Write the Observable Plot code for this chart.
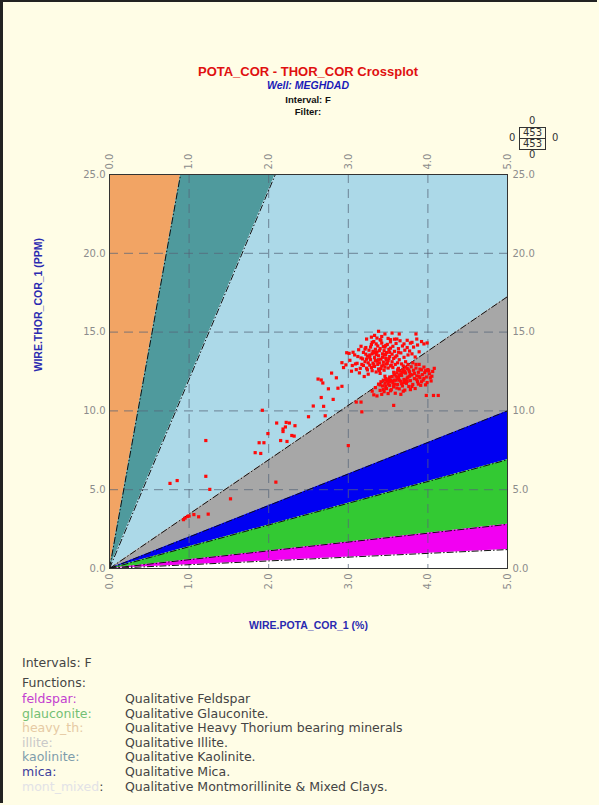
<!DOCTYPE html>
<html>
<head>
<meta charset="utf-8">
<script src="https://cdn.jsdelivr.net/npm/d3@7"></script>
<script src="https://cdn.jsdelivr.net/npm/@observablehq/plot@0.6"></script>
<style>
  html, body { margin: 0; padding: 0; }
  body { width: 599px; height: 805px; background: #fffde6; position: relative; overflow: hidden; }
  .frame { position: absolute; left: 0; top: 0; width: 597px; height: 803px; border-left: 3px solid #222; border-top: 2px solid #222; box-sizing: border-box; pointer-events: none; }
  .t { position: absolute; left: 0; width: 616px; text-align: center; font-family: "Liberation Sans", Arial, sans-serif; font-weight: bold; white-space: nowrap; }
  #chart { position: absolute; left: 0; top: 0; }
  .badge { position: absolute; font-family: "DejaVu Sans", sans-serif; font-size: 10px; color: #333; }
  .leg { position: absolute; left: 22px; font-family: "DejaVu Sans", sans-serif; font-size: 12.5px; color: #444; white-space: nowrap; line-height: 14px; }
  .leg span.d { position: absolute; left: 103px; color: #444; }
</style>
</head>
<body>
<div id="chart"></div>
<div class="t" style="top:64px;font-size:13px;color:#e01010;">POTA_COR - THOR_COR Crossplot</div>
<div class="t" style="top:79px;font-size:10.5px;color:#1a1ab8;font-style:italic;">Well: MEGHDAD</div>
<div class="t" style="top:94px;font-size:9.5px;color:#111;">Interval: F</div>
<div class="t" style="top:106px;font-size:9.5px;color:#111;">Filter:</div>

<div id="badge"></div>
<div id="legend"></div>
<div class="frame"></div>

<script>
// ---- data ----
const potaTicks = [0, 1, 2, 3, 4, 5];
const thorTicks = [0, 5, 10, 15, 20, 25];
const gridPota = [1, 2, 3, 4];
const gridThor = [5, 10, 15, 20];

const zoneNames  = ["heavy_th", "kaolinite", "mont_mixed", "illite", "mica", "glauconite", "feldspar"];
const zoneUpper  = [Infinity, 28, 12, 3.45, 2.0, 1.38, 0.56];   // Th/K ratio, upper edge
const zoneLower  = [28, 12, 3.45, 2.0, 1.38, 0.56, 0.24];       // Th/K ratio, lower edge
const zoneColors = ["#f2a464", "#4f9a9d", "#acd9e8", "#a7a7a7", "#0000f2", "#33c933", "#f200f2"];

const legendNames = ["feldspar", "glauconite", "heavy_th", "illite", "kaolinite", "mica", "mont_mixed"];
const legendDescs = ["Qualitative Feldspar", "Qualitative Glauconite.", "Qualitative Heavy Thorium bearing minerals",
                     "Qualitative Illite.", "Qualitative Kaolinite.", "Qualitative Mica.", "Qualitative Montmorillinite & Mixed Clays."];
const legendColors = ["#c33fd0", "#74c074", "#e6caa4", "#c9c9c9", "#7e9cab", "#3c3c9c", "#e2e2e6"];
const legendColonColors = ["#c33fd0", "#74c074", "#e6caa4", "#c9c9c9", "#7e9cab", "#3c3c9c", "#444"];

const countTotal = 453, countShown = 453, countOut = [0, 0, 0, 0];

// crossplot points (POTA_COR %, THOR_COR ppm)
const pota = [
  0.76,0.85,0.93,0.95,0.98,1.00,1.06,1.12,1.24,1.21,1.26,1.21,1.52,1.90,1.83,1.88,1.94,1.99,1.92,2.09,2.10,2.15,2.18,2.21,2.26,2.18,2.23,2.29,2.32,2.22,2.33,3.00,
  2.98,2.92,2.94,2.79,2.85,2.62,2.66,2.68,2.75,2.87,2.92,2.66,2.81,2.56,2.69,2.50,2.71,3.10,3.16,3.57,3.17,
  3.97,3.98,4.07,4.13,4.01,4.05,
  3.33,3.55,3.64,3.85,3.23,3.40,3.53,3.61,3.74,3.80,3.86,3.95,3.99,3.70,
  3.02,3.05,3.08,3.10,3.11,3.13,3.14,3.16,3.17,3.19,3.20,3.21,3.22,3.23,3.24,3.25,3.26,3.27,3.28,3.29,
  3.30,3.30,3.31,3.32,3.33,3.33,3.34,3.35,3.36,3.36,3.37,3.38,3.38,3.39,3.40,3.40,3.41,3.42,3.42,3.43,
  3.44,3.45,3.45,3.46,3.47,3.48,3.48,3.49,3.50,3.50,3.51,3.52,3.53,3.54,3.55,3.55,3.56,3.57,3.58,3.59,
  3.60,3.61,3.62,3.63,3.64,3.65,3.66,3.67,3.68,3.70,3.71,3.72,3.74,3.75,3.77,3.78,3.80,3.82,3.84,3.87,3.89,3.92,
  3.25,3.27,3.29,3.31,3.34,3.35,3.37,3.39,3.41,3.43,3.44,3.46,3.47,3.49,3.51,3.53,3.22,3.18,3.15,3.12,3.09,3.06,3.04,2.97,3.01,
  3.21,3.24,3.28,3.32,3.35,3.38,3.41,3.44,3.47,3.52,3.56,3.59,3.27,3.33,3.39,3.45,3.50,3.42,3.36,3.30,3.19,3.16,3.23,3.48,3.53,3.63,3.58,3.46,3.38,3.29,
  3.30,3.32,3.34,3.36,3.38,3.40,3.41,3.42,3.43,3.44,3.45,3.46,3.47,3.48,3.49,3.50,3.51,3.52,3.53,3.54,
  3.55,3.56,3.57,3.58,3.59,3.60,3.61,3.62,3.63,3.64,3.65,3.66,3.67,3.68,3.69,3.70,3.71,3.72,3.73,3.74,
  3.75,3.76,3.77,3.78,3.79,3.80,3.81,3.82,3.83,3.84,3.85,3.86,3.87,3.88,3.89,3.90,3.91,3.92,3.93,3.94,
  3.95,3.96,3.98,4.00,4.02,4.04,4.06,4.08,
  3.58,3.62,3.66,3.70,3.74,3.78,3.60,3.64,3.68,3.72,3.76,3.55,3.52,3.50,3.48,3.46,3.57,3.63,3.69,3.75,3.81,
  3.53,3.58,3.61,3.64,3.67,3.71,3.74,3.77,3.80,3.83,3.86,3.89,3.92,3.95,3.97,3.99,4.03,3.69,3.78,3.62,3.66,3.85,3.90,3.72,3.57,3.47,3.44,3.40,3.52,3.88
];
const thor = [
  5.40,5.58,3.10,3.20,3.30,3.33,3.42,3.28,3.45,5.85,5.02,8.12,4.42,7.30,7.35,7.98,7.98,8.56,10.04,5.48,9.23,8.12,8.85,8.98,9.23,8.69,8.06,8.44,8.40,9.27,9.06,7.80,
  13.69,13.06,12.75,12.40,12.10,12.02,11.96,11.77,11.40,11.44,11.56,10.85,10.73,10.31,10.29,9.63,9.69,10.56,10.56,10.35,9.94,
  11.65,10.98,10.98,10.98,12.54,12.20,
  14.79,14.94,14.88,14.88,14.56,14.52,14.52,14.56,14.48,14.35,14.56,14.25,14.31,14.25,
  13.21,12.88,13.55,12.62,13.02,13.88,12.41,13.36,12.95,13.71,12.18,13.12,14.02,12.71,13.47,12.33,13.85,12.90,13.25,14.21,
  12.55,13.62,13.03,14.40,12.82,13.38,13.91,12.47,13.15,13.73,14.12,12.66,13.50,13.05,13.95,12.38,13.28,14.30,12.85,13.62,
  13.10,13.82,12.58,14.05,13.35,12.98,13.70,14.22,13.18,12.72,13.90,13.45,14.38,12.90,13.60,13.12,14.10,13.33,13.78,12.95,
  14.28,13.50,13.05,13.95,13.25,14.45,13.68,12.98,14.12,13.40,13.85,13.12,14.02,13.55,13.80,14.30,13.62,14.05,13.42,14.18,13.75,14.40,
  13.05,13.55,12.75,13.78,13.20,13.58,12.95,13.82,12.68,13.40,14.08,12.78,13.58,13.02,13.32,12.85,13.60,13.30,12.70,13.45,12.98,13.72,12.52,12.92,13.65,
  13.92,12.60,14.05,12.95,14.25,13.25,14.48,12.92,14.15,13.72,12.75,13.42,13.38,13.70,12.55,13.55,14.60,14.72,14.62,14.35,12.88,14.10,13.28,13.22,13.98,13.72,14.55,14.88,15.05,14.68,
  11.25,11.02,11.48,10.95,11.70,11.30,11.85,11.05,11.58,11.95,11.22,11.75,12.05,11.42,11.88,11.10,12.02,11.62,11.95,11.35,
  12.18,11.80,11.52,12.30,11.12,11.95,12.42,11.68,12.12,11.40,12.55,11.88,12.25,11.58,12.62,12.00,11.32,12.40,11.75,12.70,
  12.15,11.55,12.48,11.92,12.80,12.28,11.68,12.58,12.05,11.42,12.72,12.22,11.85,12.45,12.95,12.10,11.62,12.60,12.30,11.95,
  12.78,12.42,12.15,12.62,12.35,11.90,12.50,12.70,
  11.70,12.05,12.35,11.80,12.08,12.30,12.20,11.95,12.45,11.95,12.60,11.90,12.15,11.70,11.95,12.20,12.45,12.70,12.85,12.95,13.05,
  11.28,11.95,11.45,12.28,11.72,12.52,11.88,12.20,11.55,12.38,11.98,12.20,11.85,12.05,12.55,11.80,12.10,11.25,11.35,12.60,11.05,12.95,12.65,12.78,11.60,11.55,11.35,11.65,11.85,11.70
];

// ---- derived tables for the library ----
const points = pota.map((k, i) => ({k, th: thor[i]}));
const areaRows = [];
zoneNames.forEach((z, i) => {
  const up = zoneUpper[i], lo = zoneLower[i];
  const xs = new Set([0, 5]);
  if (isFinite(up) && 25 / up < 5) xs.add(25 / up);
  if (25 / lo < 5) xs.add(25 / lo);
  [...xs].sort((a, b) => a - b).forEach(x => areaRows.push({
    zone: z, color: zoneColors[i], x,
    y1: Math.min(lo * x, 25),
    y2: isFinite(up) ? Math.min(up * x, 25) : 25
  }));
});
const boundaries = zoneLower.map(r => ({x2: Math.min(5, 25 / r), y2: Math.min(25, 5 * r)}));

const fmt = d3.format(".1f");
const axisStyle = {tickSize: 0, tickFormat: fmt, label: null, fill: "#8c8c8c", fontSize: 10};

const chart = Plot.plot({
  width: 599,
  height: 640,
  marginLeft: 109,
  marginRight: 92,
  marginTop: 174,
  marginBottom: 72,
  x: {domain: [0, 5]},
  y: {domain: [0, 25]},
  color: {type: "identity"},
  style: {background: "transparent", fontFamily: "DejaVu Sans, sans-serif", fontSize: "10px", color: "#8c8c8c", overflow: "visible"},
  marks: [
    Plot.frame({fill: "white"}),
    Plot.areaY(areaRows, {x: "x", y1: "y1", y2: "y2", z: "zone", fill: "color", curve: "linear"}),
    Plot.ruleX(gridPota, {stroke: "#56667a", strokeOpacity: 0.75, strokeDasharray: "9,6"}),
    Plot.ruleY(gridThor, {stroke: "#56667a", strokeOpacity: 0.75, strokeDasharray: "9,6"}),
    Plot.link(boundaries, {x1: 0, y1: 0, x2: "x2", y2: "y2", stroke: "#111", strokeWidth: 1, strokeDasharray: "7,2,1.5,2"}),
    Plot.dot(points, {x: "k", y: "th", symbol: "square", r: 1.8, fill: "#ff0a0a", stroke: "none"}),
    Plot.frame({stroke: "#333", strokeWidth: 1}),
    Plot.axisX(potaTicks, {anchor: "bottom", tickRotate: -90, tickPadding: 5, ...axisStyle}),
    Plot.axisX(potaTicks, {anchor: "top", tickRotate: -90, tickPadding: 5, ...axisStyle}),
    Plot.axisY(thorTicks, {anchor: "left", tickPadding: 4, ...axisStyle}),
    Plot.axisY(thorTicks, {anchor: "right", tickPadding: 5, ...axisStyle}),
    Plot.text(["WIRE.POTA_COR_1 (%)"], {frameAnchor: "bottom", dy: 60, text: d => d, fill: "#2a2ab0", fontWeight: "bold", fontSize: 10.5, fontFamily: "Liberation Sans, Arial, sans-serif"}),
    Plot.text(["WIRE.THOR_COR_1 (PPM)"], {frameAnchor: "left", dx: -71, rotate: -90, text: d => d, fill: "#2a2ab0", fontWeight: "bold", fontSize: 10.5, fontFamily: "Liberation Sans, Arial, sans-serif"})
  ]
});
document.getElementById("chart").appendChild(chart);

// ---- count badge (top right) ----
const badge = document.getElementById("badge");
badge.innerHTML = `
  <div class="badge" style="left:529px;top:115px;">${countOut[0]}</div>
  <div class="badge" style="left:519px;top:127px;width:25px;height:10px;border:1px solid #333;text-align:center;line-height:10px;">${countTotal}</div>
  <div class="badge" style="left:519px;top:138px;width:25px;height:10px;border:1px solid #333;text-align:center;line-height:10px;">${countShown}</div>
  <div class="badge" style="left:509px;top:132px;">${countOut[1]}</div>
  <div class="badge" style="left:552px;top:132px;">${countOut[2]}</div>
  <div class="badge" style="left:529px;top:149px;">${countOut[3]}</div>`;

// ---- bottom legend ----
const legend = document.getElementById("legend");
let html = `<div class="leg" style="top:656px;">Intervals: F</div><div class="leg" style="top:676px;">Functions:</div>`;
legendNames.forEach((n, i) => {
  html += `<div class="leg" style="top:${692 + i * 14.6}px;"><span style="color:${legendColors[i]}">${n}</span><span style="color:${legendColonColors[i]}">:</span><span class="d">${legendDescs[i]}</span></div>`;
});
legend.innerHTML = html;
</script>
</body>
</html>
